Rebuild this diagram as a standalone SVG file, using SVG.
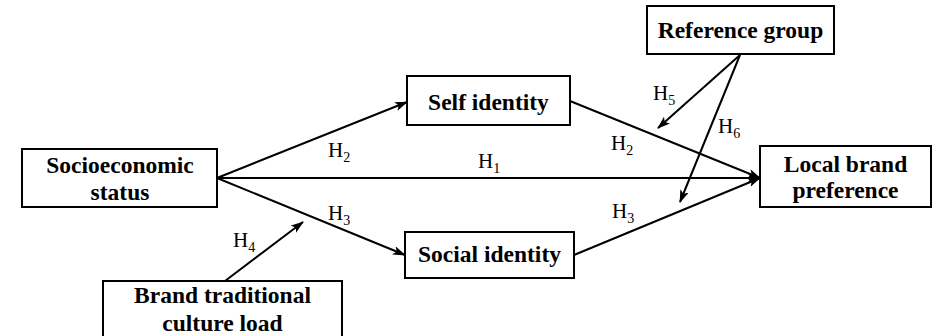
<svg xmlns="http://www.w3.org/2000/svg" width="938" height="336" viewBox="0 0 938 336">
<defs>
<marker id="ah" markerUnits="userSpaceOnUse" markerWidth="14" markerHeight="10" refX="12" refY="4.5" orient="auto">
<path d="M0,0 L13,4.5 L0,9 L3,4.5 z" fill="#000"/>
</marker>
<style>
.box{fill:#fff;stroke:#000;stroke-width:2}
.nt{font-family:'Liberation Serif','Times New Roman',serif;font-weight:bold;font-size:23.5px;fill:#000;text-anchor:middle}
.lb{font-family:'Liberation Serif','Times New Roman',serif;font-size:21px;fill:#000}
.sb{font-size:14px}
.ln{stroke:#000;stroke-width:2;fill:none}
.ar{marker-end:url(#ah)}
</style>
</defs>
<rect width="938" height="336" fill="#fff"/>
<g id="connectors">
<line class="ln ar" x1="217" y1="178" x2="407" y2="102"/>
<line class="ln ar" x1="217" y1="178" x2="760" y2="178"/>
<line class="ln ar" x1="217" y1="178" x2="405" y2="255"/>
<line class="ln ar" x1="570" y1="101" x2="760" y2="178"/>
<line class="ln ar" x1="574" y1="255" x2="760" y2="178"/>
<line class="ln ar" x1="740" y1="55" x2="658" y2="128"/>
<line class="ln ar" x1="740" y1="55" x2="680" y2="202"/>
<line class="ln ar" x1="225" y1="281" x2="303" y2="222"/>
<text class="lb" x="328" y="157">H<tspan class="sb" dy="5">2</tspan></text>
<text class="lb" x="478" y="168">H<tspan class="sb" dy="5">1</tspan></text>
<text class="lb" x="328" y="220">H<tspan class="sb" dy="5">3</tspan></text>
<text class="lb" x="611" y="150">H<tspan class="sb" dy="5">2</tspan></text>
<text class="lb" x="653" y="100">H<tspan class="sb" dy="5">5</tspan></text>
<text class="lb" x="718" y="133">H<tspan class="sb" dy="5">6</tspan></text>
<text class="lb" x="612" y="218">H<tspan class="sb" dy="5">3</tspan></text>
<text class="lb" x="233" y="247">H<tspan class="sb" dy="5">4</tspan></text>
</g>
<g id="socioeconomic">
<rect class="box" x="22" y="149" width="195" height="58"/>
<text class="nt" x="120" y="173">Socioeconomic</text>
<text class="nt" x="120" y="200">status</text>
</g>
<g id="self-identity">
<rect class="box" x="407" y="76" width="163" height="49"/>
<text class="nt" x="488.5" y="110">Self identity</text>
</g>
<g id="social-identity">
<rect class="box" x="405" y="232" width="169" height="46"/>
<text class="nt" x="489.5" y="262">Social identity</text>
</g>
<g id="reference-group">
<rect class="box" x="647" y="6" width="187" height="48"/>
<text class="nt" x="740.5" y="38">Reference group</text>
</g>
<g id="local-brand">
<rect class="box" x="760" y="146" width="171" height="61"/>
<text class="nt" x="845.5" y="172">Local brand</text>
<text class="nt" x="845.5" y="198">preference</text>
</g>
<g id="brand-traditional">
<rect class="box" x="103" y="281" width="239" height="60"/>
<text class="nt" x="222.5" y="303">Brand traditional</text>
<text class="nt" x="222.5" y="331">culture load</text>
</g>
</svg>
